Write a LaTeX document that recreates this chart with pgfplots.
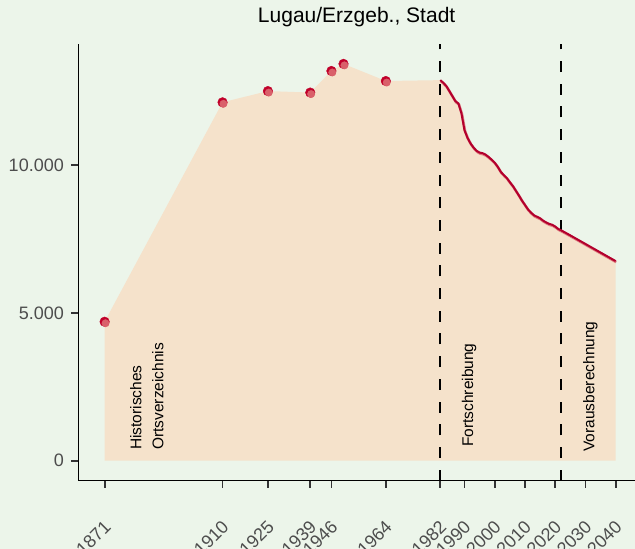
\documentclass[border=0pt]{standalone}
\usepackage{pgfplots}
\pgfplotsset{compat=1.18}
\usepackage{pgfplotstable}
\usepackage{fontspec}
\setmainfont{Liberation Sans}
\definecolor{bg}{HTML}{ECF5EA}
\definecolor{peach}{HTML}{F5E2CB}
\definecolor{dred}{HTML}{C1002A}
\definecolor{lred}{HTML}{D9606A}
\definecolor{linered}{HTML}{B3002D}
\definecolor{tickgray}{HTML}{4D4D4D}

\pgfplotstableread{
year value
1871 4700
1910 12120
1925 12500
1939 12450
1946 13180
1950 13420
1964 12840
}\historic

\pgfplotstableread{
year value
1982 12870
1983 12780
1984 12670
1985 12500
1986 12330
1987 12160
1988 12080
1989 11750
1990 11180
1991 10920
1992 10730
1993 10590
1994 10480
1995 10420
1996 10400
1997 10350
1998 10270
1999 10180
2000 10080
2001 9940
2002 9770
2003 9660
2004 9560
2005 9420
2006 9290
2007 9130
2008 8970
2009 8800
2010 8650
2011 8500
2012 8390
2013 8300
2014 8250
2015 8200
2016 8120
2017 8060
2018 8010
2019 7980
2020 7920
2021 7840
2022 7790
2025 7620
2030 7330
2035 7040
2040 6750
}\modern

\pgfplotstableread{
year value
1871 4700
1910 12120
1925 12500
1939 12450
1946 13180
1950 13420
1964 12840
1982 12870
1983 12780
1984 12670
1985 12500
1986 12330
1987 12160
1988 12080
1989 11750
1990 11180
1991 10920
1992 10730
1993 10590
1994 10480
1995 10420
1996 10400
1997 10350
1998 10270
1999 10180
2000 10080
2001 9940
2002 9770
2003 9660
2004 9560
2005 9420
2006 9290
2007 9130
2008 8970
2009 8800
2010 8650
2011 8500
2012 8390
2013 8300
2014 8250
2015 8200
2016 8120
2017 8060
2018 8010
2019 7980
2020 7920
2021 7840
2022 7790
2025 7620
2030 7330
2035 7040
2040 6750
}\areadata

\begin{document}
\begin{tikzpicture}
\useasboundingbox (-78.3pt,-68.3pt) rectangle (556.7pt,480.7pt);
\fill[bg] (-78.3pt,-68.3pt) rectangle (556.7pt,480.7pt);
\clip (-78.3pt,-68.3pt) rectangle (556.7pt,480.7pt);
\begin{axis}[
  at={(0pt,0pt)}, anchor=south west,
  scale only axis, width=556.7pt, height=436.7pt,
  xmin=1862.3, xmax=2046.4, ymin=-676, ymax=14092,
  axis x line*=bottom, axis y line*=left,
  axis line style={black, line width=1.4pt, -},
  xtick={1871,1910,1925,1939,1946,1964,1982,1990,2000,2010,2020,2030,2040},
  ytick={0,5000,10000},
  scaled y ticks=false, scaled x ticks=false,
  tick align=outside,
  major tick length=6.8pt,
  tick style={color=black!80, line width=1.8pt},
  /pgf/number format/assume math mode=true,
  xticklabel style={/pgf/number format/1000 sep={}, font=\fontsize{18}{20}\selectfont, text=tickgray, inner sep=0pt, xshift=3pt, yshift=-36pt, rotate=45, anchor=east},
  yticklabel style={/pgf/number format/1000 sep={.}, font=\fontsize{18}{20}\selectfont, text=tickgray, inner sep=0pt, anchor=east, xshift=-7.5pt},
  title={Lugau/Erzgeb., Stadt},
  title style={at={(0.5,1)}, anchor=base, yshift=15.7pt, inner sep=0pt, font=\fontsize{21}{24}\selectfont},
  clip=true,
]
\addplot[fill=peach, draw=none] table[x=year, y=value] {\areadata} \closedcycle;
\addplot[black, line width=2.2pt, dash pattern=on 11pt off 11.7pt] coordinates {(1982,-676) (1982,14092)};
\addplot[black, line width=2.2pt, dash pattern=on 11pt off 11.7pt] coordinates {(2022,-676) (2022,14092)};
\addplot[lred, line width=2.6pt, opacity=0.8, xshift=0.6pt, yshift=-1pt] table[x=year, y=value] {\modern};
\addplot[linered, line width=2pt] table[x=year, y=value] {\modern};
\addplot[dred, only marks, mark=*, mark size=4.8pt, mark options={fill=dred, draw=none}] table[x=year, y=value] {\historic};
\addplot[lred, only marks, mark=*, mark size=3.7pt, mark options={fill=lred, draw=none, xshift=0.9pt, yshift=-1.5pt}] table[x=year, y=value] {\historic};
\node[rotate=90, anchor=base west, inner sep=0pt, font=\fontsize{15.5}{18}\selectfont] at (axis cs:1883.2,362) {Historisches};
\node[rotate=90, anchor=base west, inner sep=0pt, font=\fontsize{15.5}{18}\selectfont] at (axis cs:1890.4,362) {Ortsverzeichnis};
\node[rotate=90, anchor=base west, inner sep=0pt, font=\fontsize{15.5}{18}\selectfont] at (axis cs:1992.9,463) {Fortschreibung};
\node[rotate=90, anchor=base west, inner sep=0pt, font=\fontsize{15.5}{18}\selectfont] at (axis cs:2033.0,304) {Vorausberechnung};
\end{axis}
\end{tikzpicture}
\end{document}
